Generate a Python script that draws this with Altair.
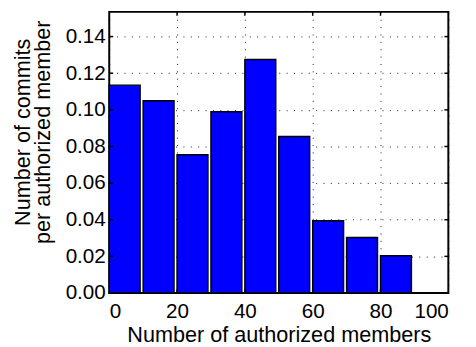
import altair as alt
import pandas as pd

# Data
bin_start = [0, 10, 20, 30, 40, 50, 60, 70, 80]
commits_per_member = [0.1135, 0.1050, 0.0755, 0.0990, 0.1275, 0.0855, 0.0395, 0.0303, 0.0203]
bar_span = 9.1
x_ticks = [0, 20, 40, 60, 80, 100]
y_ticks = [0.00, 0.02, 0.04, 0.06, 0.08, 0.10, 0.12, 0.14]
x_domain = [0, 100]
y_domain = [0, 0.1535]

W, H = 345, 286
FONT = "Liberation Sans"
FS = 21
TFS = 22

bars_df = pd.DataFrame({
    "start": bin_start,
    "end": [b + bar_span for b in bin_start],
    "value": commits_per_member,
})
xt_df = pd.DataFrame({"t": x_ticks[1:-1]})
yt_df = pd.DataFrame({"t": y_ticks[1:]})

xscale = alt.Scale(domain=x_domain, nice=False, zero=False)
yscale = alt.Scale(domain=y_domain, nice=False, zero=False)

bars = alt.Chart(bars_df).mark_rect(
    color="#0000ff", stroke="black", strokeWidth=1.5
).encode(
    x=alt.X("start:Q", scale=xscale,
            axis=alt.Axis(values=x_ticks, format="d", title="Number of authorized members",
                          grid=True, titleBaseline="alphabetic", titleY=49)),
    x2="end:Q",
    y=alt.Y("value:Q", scale=yscale,
            axis=alt.Axis(values=y_ticks, format=".2f",
                          title=["Number of commits", "per authorized member"],
                          grid=True, titleAngle=-90, titleX=-81, titleY=122,
                          titleBaseline="alphabetic", titleAlign="center",
                          titleLineHeight=20)),
    y2=alt.datum(0),
)

tick_len = 4
xt_bottom = alt.Chart(xt_df).mark_rule(color="black", strokeWidth=1.5).encode(
    x=alt.X("t:Q", scale=xscale), y=alt.value(H), y2=alt.value(H - tick_len))
xt_top = alt.Chart(xt_df).mark_rule(color="black", strokeWidth=1.5).encode(
    x=alt.X("t:Q", scale=xscale), y=alt.value(0), y2=alt.value(tick_len))
yt_left = alt.Chart(yt_df).mark_rule(color="black", strokeWidth=1.5).encode(
    y=alt.Y("t:Q", scale=yscale), x=alt.value(0), x2=alt.value(tick_len))
yt_right = alt.Chart(yt_df).mark_rule(color="black", strokeWidth=1.5).encode(
    y=alt.Y("t:Q", scale=yscale), x=alt.value(W - tick_len), x2=alt.value(W))

chart = alt.layer(bars, xt_bottom, xt_top, yt_left, yt_right).properties(
    width=W, height=H,
    autosize=alt.AutoSizeParams(type="none"),
    padding={"left": 103, "top": 1, "right": 20, "bottom": 52},
).configure_view(
    stroke="black", strokeWidth=2
).configure_axis(
    domain=False, ticks=False,
    labelFont=FONT, labelFontSize=FS, labelColor="black",
    titleFont=FONT, titleFontSize=TFS, titleColor="black", titleFontWeight="normal",
    gridColor="black", gridDash=[1, 6.5], gridWidth=1, gridOpacity=0.9,
).configure_axisY(
    labelPadding=4,
).configure_axisX(
    labelPadding=8,
)

chart.save("out.html", embed_options={"renderer": "svg", "actions": False})
